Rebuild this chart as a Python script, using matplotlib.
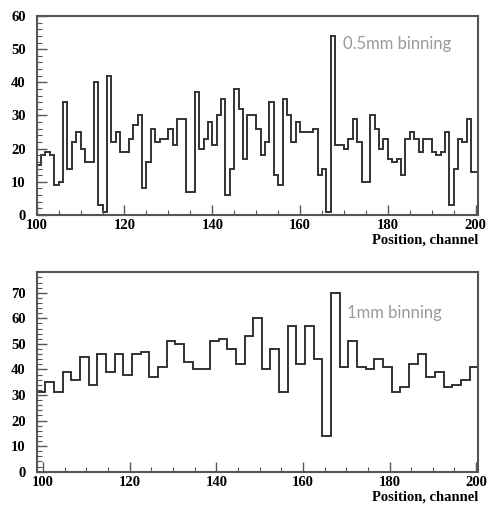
import numpy as np
import matplotlib
matplotlib.use("Agg")
import matplotlib.pyplot as plt
from matplotlib.ticker import MultipleLocator

# ---- data ----
# top panel: 0.5mm binning, 1-channel bins starting at channel 100
top_start = 100
top_width = 1.0
top_counts = [15, 18, 19, 18, 9, 10, 34, 14, 22, 25,
              20, 16, 16, 40, 3, 1, 42, 22, 25, 19,
              19, 23, 27, 30, 8, 16, 26, 22, 23, 23,
              26, 21, 29, 29, 7, 7, 37, 20, 23, 28,
              21, 30, 35, 6, 14, 38, 32, 17, 30, 30,
              26, 18, 22, 34, 12, 9, 35, 30, 22, 28,
              25, 25, 25, 26, 12, 14, 1, 54, 21, 21,
              20, 23, 29, 22, 10, 10, 30, 26, 20, 23,
              17, 16, 17, 12, 23, 25, 23, 19, 23, 23,
              19, 18, 19, 25, 3, 14, 23, 22, 29, 13, 13]

# bottom panel: 1mm binning, 2-channel bins starting at channel 98.5
bot_start = 98.5
bot_width = 2.0
bot_counts = [31, 35, 31, 39, 36, 45, 34, 46, 39, 46,
              38, 46, 47, 37, 41, 51, 50, 43, 40, 40,
              51, 52, 48, 42, 53, 60, 40, 48, 31, 57,
              42, 57, 44, 14, 70, 41, 51, 41, 40, 44,
              41, 31, 33, 42, 46, 37, 39, 33, 34, 36, 41]

x_label = "Position, channel"
top_note = "0.5mm binning"
bot_note = "1mm binning"

# ---- figure ----
fig = plt.figure(figsize=(4.88, 5.07), dpi=100)
W, H = 488, 507

def px_axes(l, t, r, b):
    return fig.add_axes([l / W, 1 - b / H, (r - l) / W, (b - t) / H])

ax1 = px_axes(36.7, 16, 478.3, 215)
ax2 = px_axes(36.7, 272.3, 478.3, 471.7)

line_col = "#333333"
frame_col = "#555555"
tick_font = dict(family="Liberation Serif", weight="bold", size=10.5)

def style(ax, xlim, ylim):
    ax.set_xlim(*xlim)
    ax.set_ylim(*ylim)
    for s in ax.spines.values():
        s.set_color(frame_col)
        s.set_linewidth(1.5)
    ax.xaxis.set_major_locator(MultipleLocator(20))
    ax.xaxis.set_minor_locator(MultipleLocator(5))
    ax.yaxis.set_major_locator(MultipleLocator(10))
    ax.yaxis.set_minor_locator(MultipleLocator(2))
    ax.tick_params(axis="both", which="both", direction="in", color=frame_col,
                   top=False, right=False)
    ax.tick_params(axis="both", which="major", length=7, width=1.0)
    ax.tick_params(axis="both", which="minor", length=3.5, width=0.8)
    ax.tick_params(axis="x", which="major", pad=3)
    ax.tick_params(axis="y", which="major", pad=8)
    for lab in ax.get_xticklabels() + ax.get_yticklabels():
        lab.set_fontfamily(tick_font["family"])
        lab.set_fontweight(tick_font["weight"])
        lab.set_fontsize(tick_font["size"])
    ax.set_xlabel(x_label, loc="right", labelpad=1,
                  fontfamily="Liberation Serif", fontweight="bold", fontsize=10.5)

# top histogram
top_edges = top_start + top_width * np.arange(len(top_counts) + 1)
ax1.stairs(top_counts, top_edges, color=line_col, linewidth=1.4)
style(ax1, (100, 200.6), (0, 60))
ax1.text(0.694, 0.86, top_note, transform=ax1.transAxes, color="#9a9a9a",
         fontsize=12, family="Lato", va="center", ha="left")

# bottom histogram
bot_edges = bot_start + bot_width * np.arange(len(bot_counts) + 1)
ax2.stairs(bot_counts, bot_edges, color=line_col, linewidth=1.4)
style(ax2, (98.5, 200.5), (0, 78))
ax2.text(0.703, 0.794, bot_note, transform=ax2.transAxes, color="#9a9a9a",
         fontsize=12, family="Lato", va="center", ha="left")

fig.savefig("out.png", dpi=100)
